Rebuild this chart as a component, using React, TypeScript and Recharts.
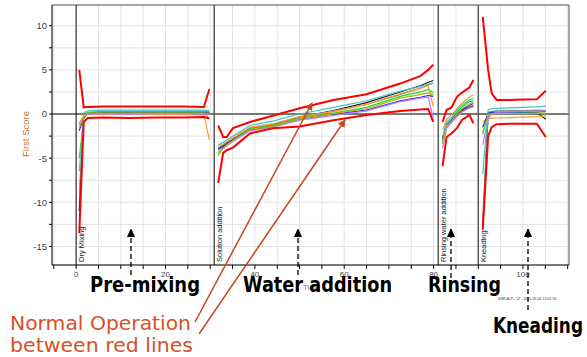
import React from "react";
import { CartesianGrid, Line, LineChart, ReferenceLine, XAxis, YAxis } from "recharts";

// axis ranges / ticks
const X_MIN = -5.4;
const X_MAX = 110.3;
const Y_MIN = -17.1;
const Y_MAX = 12.35;
const xTicks = [-5, 0, 5, 10, 15, 20, 25, 30, 35, 40, 45, 50, 55, 60, 65, 70, 75, 80, 85, 90, 95, 100, 105, 110];
const yTicks = [-15, -12.5, -10, -7.5, -5, -2.5, 0, 2.5, 5, 7.5, 10];

// batch runs (one line per run)
const runs = [
  { key: "black", color: "#1c1c1c" },
  { key: "gray", color: "#8a8a8a" },
  { key: "orange", color: "#ff9a2e" },
  { key: "green", color: "#1fdc1f" },
  { key: "blue", color: "#2626ff" },
  { key: "violet", color: "#b27cff" },
  { key: "cyan", color: "#3cc8c8" },
  { key: "olive", color: "#b9b400" },
];

// phase boundaries
const phases = [
  { x: 0, name: "Dry Mixing", color: "#111" },
  { x: 30.9, name: "Solution addition", color: "#5a5a5a" },
  { x: 81.05, name: "Rinsing water addition", color: "#5a5a5a" },
  { x: 90.0, name: "Kneading", color: "#5a5a5a" },
];

// pre-mixing
const premixX = [0.7, 1.7, 2.6, 6, 12, 18, 24, 28.6, 29.8];
const premixUpper = [5.0, 0.75, 0.8, 0.85, 0.85, 0.85, 0.85, 0.8, 2.8];
const premixLower = [-13.5, -0.9, -0.45, -0.4, -0.45, -0.4, -0.4, -0.35, -0.5];
const premixRuns: Record<string, number[]> = {
  black: [-11, -0.3, 0.1, 0.15, 0.2, 0.2, 0.2, 0.2, 0.15],
  gray: [-9, -0.2, 0.2, 0.3, 0.3, 0.3, 0.3, 0.3, 0.3],
  orange: [-1.0, -0.2, -0.05, -0.05, 0.0, -0.05, -0.05, -0.1, -2.9],
  green: [-5.0, -0.5, 0.1, 0.2, 0.2, 0.2, 0.2, 0.15, -0.5],
  blue: [-1.9, -0.4, 0.05, 0.1, 0.1, 0.1, 0.1, 0.1, 0.1],
  violet: [-1.2, -0.3, 0.0, 0.05, 0.0, 0.05, 0.05, 0.0, 0.0],
  cyan: [-6.5, 0.1, 0.35, 0.45, 0.45, 0.45, 0.45, 0.45, 0.4],
  olive: [-1.5, -0.3, 0.1, 0.1, 0.1, 0.1, 0.1, 0.1, 0.1],
};

// water addition
const waterX = [31.8, 32.9, 33.7, 35.1, 38.9, 44, 50, 57.6, 65, 72.5, 77, 78.8, 79.9];
const waterUpper = [-1.3, -2.6, -2.6, -1.6, -0.9, -0.2, 0.65, 1.6, 2.25, 3.45, 4.3, 5.0, 5.6];
const waterLower = [-7.8, -4.4, -4.1, -3.8, -2.2, -1.6, -1.4, -0.7, -0.1, 0.35, 0.5, 0.57, -0.9];
const waterRuns: Record<string, number[]> = {
  black: [-4.0, -3.6, -3.3, -2.8, -1.6, -1.2, -0.35, 0.4, 1.3, 2.5, 3.2, 3.6, 3.8],
  gray: [-3.8, -3.5, -3.2, -2.8, -1.6, -1.2, -0.4, 0.3, 1.1, 2.2, 2.9, 3.3, 3.5],
  orange: [-3.6, -3.4, -3.1, -2.7, -1.5, -1.1, -0.3, 0.3, 1.1, 2.3, 2.9, 3.2, 0.9],
  green: [-4.7, -3.8, -3.4, -2.9, -1.7, -1.3, -0.5, 0.1, 0.75, 2.0, 2.5, 2.8, 2.4],
  blue: [-4.0, -3.7, -3.4, -2.9, -1.8, -1.4, -0.6, 0.0, 0.45, 1.5, 1.9, 2.1, 2.0],
  violet: [-4.3, -3.9, -3.6, -3.1, -1.9, -1.5, -0.7, -0.15, 0.35, 1.4, 1.8, 1.9, -0.4],
  cyan: [-3.5, -3.2, -2.9, -2.5, -1.3, -0.8, 0.0, 0.75, 1.5, 2.6, 3.1, 3.4, 3.5],
  olive: [-4.4, -3.9, -3.5, -3.0, -1.75, -1.4, -0.55, 0.05, 0.6, 1.8, 2.2, 2.4, 2.2],
};

// rinsing
const rinseX = [82.0, 82.9, 84.0, 85.2, 86.3, 88.0, 88.9];
const rinseUpper = [-0.9, 0.45, 0.75, 1.95, 2.4, 3.0, 3.85];
const rinseLower = [-5.9, -2.6, -2.2, -1.6, -0.7, -0.1, -1.05];
const rinseRuns: Record<string, number[]> = {
  black: [-2.8, -1.3, -0.8, -0.1, 0.4, 0.8, 0.95],
  gray: [-3.0, -1.4, -0.9, -0.2, 0.3, 0.7, 0.9],
  orange: [-1.8, -0.6, -0.1, 0.6, 1.2, 1.9, 2.2],
  green: [-3.2, -1.2, -0.6, 0.2, 0.8, 1.4, 1.5],
  blue: [-2.7, -1.2, -0.7, 0.0, 0.5, 1.0, 1.2],
  violet: [-3.9, -1.6, -1.0, -0.3, 0.2, 0.7, 0.8],
  cyan: [-2.6, -0.9, -0.4, 0.4, 1.0, 1.6, 1.8],
  olive: [-3.4, -1.3, -0.8, 0.0, 0.6, 1.1, 1.3],
};

// kneading
const kneadX = [91.0, 92.2, 93.0, 94.1, 97, 100, 103.1, 105.1];
const kneadUpper = [11.0, 5.0, 2.35, 1.6, 1.6, 1.65, 1.66, 2.64];
const kneadLower = [-13.1, -2.5, -1.5, -1.15, -1.1, -1.1, -1.1, -2.6];
const kneadRuns: Record<string, number[]> = {
  black: [-13, 0.1, 0.2, 0.2, 0.2, 0.2, 0.2, -0.6],
  gray: [-12, 0.2, 0.3, 0.35, 0.4, 0.4, 0.45, 0.4],
  orange: [-0.9, -0.5, -0.5, -0.45, -0.4, -0.35, -0.3, -0.2],
  green: [-2.3, 0.0, 0.1, 0.15, 0.15, 0.15, 0.1, 0.0],
  blue: [-1.5, 0.1, 0.2, 0.2, 0.2, 0.25, 0.25, 0.3],
  violet: [-3.5, -0.5, 0.0, 0.2, 0.25, 0.3, 0.3, 0.35],
  cyan: [-6.8, 0.5, 0.6, 0.65, 0.7, 0.75, 0.8, 0.9],
  olive: [-2.0, -0.2, 0.0, 0.05, 0.05, 0.05, 0.1, 0.1],
};

const phaseRows = (xs: number[], upper: number[], lower: number[], vals: Record<string, number[]>) =>
  xs.map((x, i) => {
    const row: any = { x, upper: upper[i], lower: lower[i] };
    runs.forEach((r) => (row[r.key] = vals[r.key][i]));
    return row;
  });

const gap = (x: number) => {
  const row: any = { x, upper: null, lower: null };
  runs.forEach((r) => (row[r.key] = null));
  return row;
};

const data = [
  ...phaseRows(premixX, premixUpper, premixLower, premixRuns),
  gap(30.5),
  ...phaseRows(waterX, waterUpper, waterLower, waterRuns),
  gap(81.0),
  ...phaseRows(rinseX, rinseUpper, rinseLower, rinseRuns),
  gap(90.0),
  ...phaseRows(kneadX, kneadUpper, kneadLower, kneadRuns),
];

const FONT = "'Liberation Sans', Arial, sans-serif";

const PhaseLabel = (props: any) => {
  const { viewBox, text } = props;
  if (!viewBox) return null;
  const x0 = viewBox.x + 7.5;
  const y0 = viewBox.y + viewBox.height - 3;
  return (
    <text x={x0} y={y0} transform={`rotate(-90 ${x0} ${y0})`} fontSize={7.5} fill="#222" fontFamily={FONT}>
      {text}
    </text>
  );
};

const Annotations = () => (
  <svg width={587} height={357} style={{ position: "absolute", left: 0, top: 0, pointerEvents: "none" }}>
    <defs>
      <marker id="redHead" markerWidth="8" markerHeight="8" refX="7" refY="4" orient="auto" markerUnits="userSpaceOnUse">
        <path d="M0,0 L8,4 L0,8 Z" fill="#c8461e" />
      </marker>
      <marker id="blackHead" markerWidth="8" markerHeight="9" refX="8" refY="4" orient="auto" markerUnits="userSpaceOnUse">
        <path d="M0,0 L9,4 L0,8 Z" fill="#000" />
      </marker>
    </defs>
    <text x={29} y={134} transform="rotate(-90 29 134)" textAnchor="middle" fontSize={9.5} fill="#b87830" fontFamily={FONT}>
      First Score
    </text>
    <text x={303} y={290} fontSize={8} fill="#4a86c5" fontFamily={FONT}>
      Time
    </text>
    <text x={498} y={300} fontSize={3.6} fill="#333" fontFamily={FONT}>
      SIMCA-P+ 12 - 2011-09-06 12:02:16
    </text>
    {[
      [131, 275],
      [298, 275],
      [451, 278],
      [528, 310],
    ].map(([x, y2]) => (
      <line key={x} x1={x} y1={y2} x2={x} y2={229} stroke="#000" strokeWidth={1.3} strokeDasharray="5 3" markerEnd="url(#blackHead)" />
    ))}
    <line x1={195} y1={322} x2={312} y2={103} stroke="#c8461e" strokeWidth={1.5} markerEnd="url(#redHead)" />
    <line x1={199} y1={334} x2={345} y2={120} stroke="#c8461e" strokeWidth={1.5} markerEnd="url(#redHead)" />
    <g fontFamily="'DejaVu Sans', sans-serif" fontWeight="bold" fontSize={22} fill="#000">
      <text x={90} y={292} textLength={110} lengthAdjust="spacingAndGlyphs">Pre-mixing</text>
      <text x={243} y={292} textLength={149} lengthAdjust="spacingAndGlyphs">Water addition</text>
      <text x={428} y={292} textLength={73} lengthAdjust="spacingAndGlyphs">Rinsing</text>
      <text x={493} y={333} textLength={90} lengthAdjust="spacingAndGlyphs">Kneading</text>
    </g>
    <g fontFamily="'DejaVu Sans', sans-serif" fontSize={19} fill="#d9501f">
      <text x={10} y={330} textLength={181} lengthAdjust="spacingAndGlyphs">Normal Operation</text>
      <text x={10} y={352} textLength={183} lengthAdjust="spacingAndGlyphs">between red lines</text>
    </g>
  </svg>
);

const App: React.FC = () => {
  return (
    <div style={{ position: "absolute", left: 0, top: 0, width: 587, height: 357, background: "#fff" }}>
      <LineChart width={587} height={357} data={data} margin={{ top: 5, right: 18, bottom: 72, left: 0 }}>
        <CartesianGrid stroke="#e3e3e3" />
        <XAxis
          dataKey="x"
          type="number"
          domain={[X_MIN, X_MAX]}
          ticks={xTicks}
          allowDataOverflow
          height={20}
          tickSize={4}
          stroke="#000"
          tick={{ fill: "#444", fontSize: 8, fontFamily: FONT }}
          tickFormatter={(v: number) => (v % 20 === 0 && v >= 0 && v <= 100 ? String(v) : "")}
        />
        <YAxis
          type="number"
          domain={[Y_MIN, Y_MAX]}
          ticks={yTicks}
          allowDataOverflow
          width={52}
          tickSize={3}
          tickMargin={2}
          stroke="#000"
          tick={{ fill: "#444", fontSize: 9.5, fontFamily: FONT }}
          tickFormatter={(v: number) => (v % 5 === 0 ? String(v) : "")}
        />
        <ReferenceLine y={Y_MAX} stroke="#8c8c8c" strokeWidth={1.5} />
        <ReferenceLine x={X_MAX} stroke="#8c8c8c" strokeWidth={1.5} />
        <ReferenceLine y={0} stroke="#7a7a7a" strokeWidth={2} />
        {phases.map((p) => (
          <ReferenceLine
            key={p.name}
            x={p.x}
            stroke={p.color}
            strokeWidth={p.x === 0 ? 1 : 1.5}
            label={<PhaseLabel text={p.name} />}
          />
        ))}
        {runs.map((r) => (
          <Line
            key={r.key}
            dataKey={r.key}
            stroke={r.color}
            strokeWidth={1.2}
            dot={false}
            activeDot={false}
            isAnimationActive={false}
            type="linear"
          />
        ))}
        <Line dataKey="upper" stroke="#ff0000" strokeWidth={2} dot={false} activeDot={false} isAnimationActive={false} />
        <Line dataKey="lower" stroke="#ff0000" strokeWidth={2} dot={false} activeDot={false} isAnimationActive={false} />
      </LineChart>
      <Annotations />
    </div>
  );
};

export default App;
